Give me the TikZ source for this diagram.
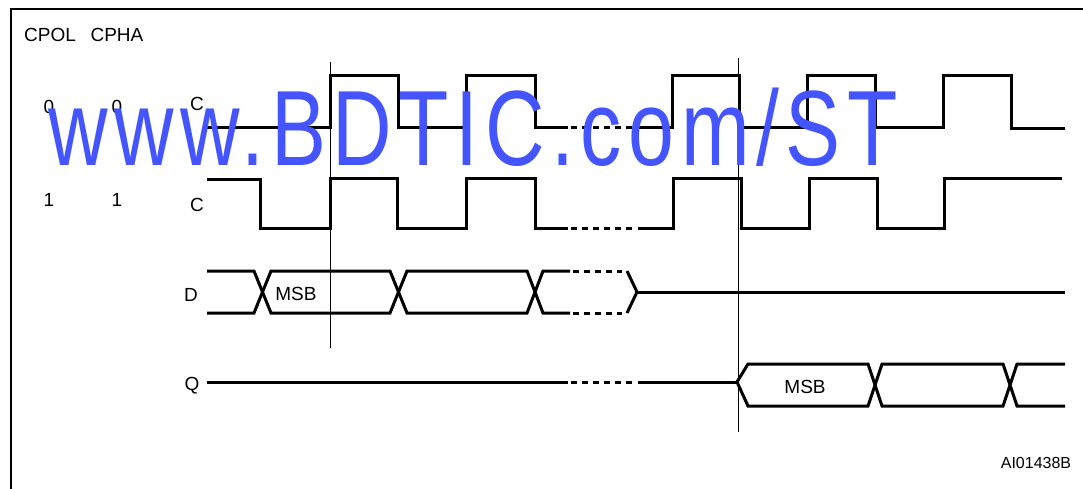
\documentclass[tikz,border=0pt]{standalone}
\usepackage{fontspec}
\setmainfont{Liberation Sans}
\newfontfamily\wmfont[LetterSpace=8]{Liberation Sans}
\definecolor{wmblue}{RGB}{68,85,255}
\begin{document}
\begin{tikzpicture}[x=1pt, y=-1pt, line join=miter, wave/.style={line width=3pt}, gap/.style={line width=3pt,dash pattern=on 6pt off 5pt}, marker/.style={line width=1pt}, label node/.style={inner sep=0pt,font=\fontsize{19}{21}\selectfont}]
\useasboundingbox (0,0) rectangle (1083,488);
\fill[white] (0,0) rectangle (1083,488);
\draw[line width=2pt] (11,495) -- (11,9) -- (1090,9);
\begin{scope}[every node/.style={label node}]
\node (cpol) at (50,35) {CPOL};
\node (cpha) at (117,35) {CPHA};
\node (pol0) at (49,107) {0};
\node (pha0) at (117,107) {0};
\node (clk0) at (197,104) {C};
\node (pol1) at (49,200) {1};
\node (pha1) at (117,200) {1};
\node (clk1) at (197,205) {C};
\node (din) at (191,295) {D};
\node (qout) at (192,386) {Q};
\node (msbd) at (296,294) {MSB};
\node (msbq) at (805,387) {MSB};
\node [font=\fontsize{16}{18}\selectfont](figid) at (1036,463) {AI01438B};
\end{scope}
\draw[marker] (330,62) -- (330,348);
\draw[marker] (738,58) -- (738,432);
\draw[wave] (207,127) -- (330,127) -- (330,75) -- (398,75) -- (398,127) -- (466,127) -- (466,75) -- (535,75) -- (535,127) -- (568,127);
\draw[gap] (571,127) -- (636,127);
\draw[wave] (638,127) -- (672,127) -- (672,75) -- (739,75) -- (739,127) -- (807,127) -- (807,75) -- (875,75) -- (875,127) -- (943,127) -- (943,75) -- (1011,75) -- (1011,128) -- (1065,128);
\draw[wave] (207,179) -- (260,179) -- (260,228) -- (330,228) -- (330,178) -- (397,178) -- (397,228) -- (466,228) -- (466,178) -- (535,178) -- (535,228) -- (568,228);
\draw[gap] (571,228) -- (636,228);
\draw[wave] (638,228) -- (673,228) -- (673,178) -- (741,178) -- (741,228) -- (809,228) -- (809,178) -- (877,178) -- (877,228) -- (944,228) -- (944,178) -- (1062,178);
\draw[wave] (207,271) -- (254,271) -- (271,313) -- (390,313) -- (407,271) -- (527,271) -- (543,313) -- (570,313);
\draw[wave] (207,313) -- (254,313) -- (271,271) -- (390,271) -- (407,313) -- (527,313) -- (543,271) -- (570,271);
\draw[gap] (573,271) -- (622,271);
\draw[gap] (573,313) -- (622,313);
\draw[wave] (627,271) -- (637,292) -- (627,313);
\draw[wave] (637,292) -- (1065,292);
\draw[wave] (207,382) -- (568,382);
\draw[gap] (571,382) -- (636,382);
\draw[wave] (638,382) -- (737,382);
\draw[wave] (737,382) -- (748,364) -- (868,364) -- (882,406) -- (1003,406) -- (1017,364) -- (1065,364);
\draw[wave] (737,382) -- (748,406) -- (868,406) -- (882,364) -- (1003,364) -- (1017,406) -- (1065,406);
\node [wmblue,inner sep=0pt,anchor=base west,font=\wmfont\fontsize{107}{110}\selectfont](watermark) at (48,165) {\scalebox{0.77}[1]{www.BDTIC.com/ST}};
\end{tikzpicture}
\end{document}
